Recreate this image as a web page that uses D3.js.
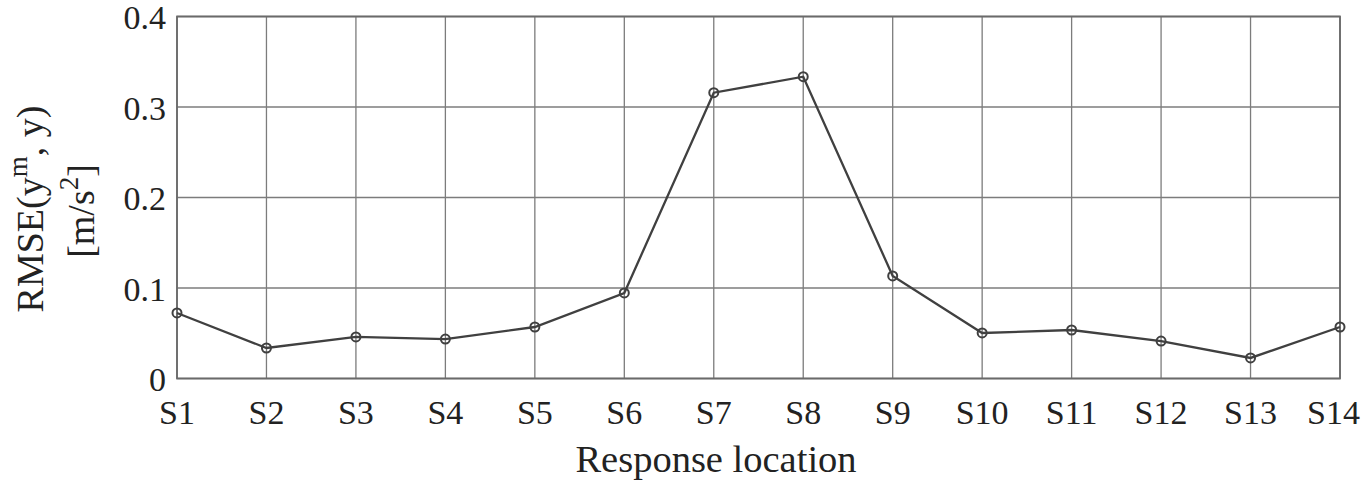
<!DOCTYPE html>
<html>
<head>
<meta charset="utf-8">
<script src="https://cdn.jsdelivr.net/npm/d3@7"></script>
<style>
  body { margin: 0; background: #fff; }
  svg text { font-family: "Liberation Serif", "Times New Roman", serif; fill: #222; }
</style>
</head>
<body>
<div id="chart"></div>
<script>
var width = 1362;
var height = 483;

var locations = ["S1", "S2", "S3", "S4", "S5", "S6", "S7", "S8", "S9", "S10", "S11", "S12", "S13", "S14"];
var rmse = [0.0724, 0.0337, 0.0459, 0.0436, 0.0569, 0.0945, 0.3158, 0.3335, 0.1133, 0.0503, 0.0536, 0.0414, 0.0227, 0.0569];
var yTicks = [0, 0.1, 0.2, 0.3, 0.4];
var yTickLabels = ["0", "0.1", "0.2", "0.3", "0.4"];

var margin = {left: 177, right: 22, top: 16.5, bottom: 104.5};

var svg = d3.select("#chart")
  .append("svg")
  .attr("width", width)
  .attr("height", height);

var x = d3.scalePoint()
  .domain(locations)
  .range([margin.left, width - margin.right]);

var y = d3.scaleLinear()
  .domain([0, 0.4])
  .range([height - margin.bottom, margin.top]);

// grid
svg.append("g")
  .selectAll("line.vgrid")
  .data(locations)
  .enter().append("line")
  .attr("x1", function(d) { return x(d); })
  .attr("x2", function(d) { return x(d); })
  .attr("y1", y(0))
  .attr("y2", y(0.4))
  .attr("stroke", "#7c7c7c")
  .attr("stroke-width", 1.3);

svg.append("g")
  .selectAll("line.hgrid")
  .data(yTicks)
  .enter().append("line")
  .attr("x1", x.range()[0])
  .attr("x2", x.range()[1])
  .attr("y1", function(d) { return y(d); })
  .attr("y2", function(d) { return y(d); })
  .attr("stroke", "#7c7c7c")
  .attr("stroke-width", 1.3);

// axes box
svg.append("rect")
  .attr("x", x.range()[0])
  .attr("y", y(0.4))
  .attr("width", x.range()[1] - x.range()[0])
  .attr("height", y(0) - y(0.4))
  .attr("fill", "none")
  .attr("stroke", "#6a6a6a")
  .attr("stroke-width", 1.8);

// tick labels (last one kept inside the page like the original)
var lastLoc = locations[locations.length - 1];
svg.append("g")
  .selectAll("text")
  .data(locations)
  .enter().append("text")
  .attr("x", function(d) { return d === lastLoc ? width - 2 : x(d); })
  .attr("y", 424)
  .attr("text-anchor", function(d) { return d === lastLoc ? "end" : "middle"; })
  .style("font-size", "34px")
  .text(function(d) { return d; });

svg.append("g")
  .selectAll("text")
  .data(yTicks)
  .enter().append("text")
  .attr("x", 166)
  .attr("y", function(d) { return y(d) + 12.5; })
  .attr("text-anchor", "end")
  .style("font-size", "34px")
  .text(function(d, i) { return yTickLabels[i]; });

// axis titles
svg.append("text")
  .attr("x", 716)
  .attr("y", 472)
  .attr("text-anchor", "middle")
  .style("font-size", "38.5px")
  .text("Response location");

var yt = svg.append("text")
  .attr("transform", "translate(43," + 209 + ") rotate(-90)")
  .attr("text-anchor", "middle")
  .style("font-size", "38px");
yt.append("tspan").text("RMSE(y");
yt.append("tspan").attr("dy", -16).style("font-size", "27px").text("m");
yt.append("tspan").attr("dy", 16).text(", y)");

var yt2 = svg.append("text")
  .attr("transform", "translate(94," + 211 + ") rotate(-90)")
  .attr("text-anchor", "middle")
  .style("font-size", "38px");
yt2.append("tspan").text("[m/s");
yt2.append("tspan").attr("dy", -16).style("font-size", "27px").text("2");
yt2.append("tspan").attr("dy", 16).text("]");

// line
var line = d3.line()
  .x(function(d, i) { return x(locations[i]); })
  .y(function(d) { return y(d); });

svg.append("path")
  .datum(rmse)
  .attr("d", line)
  .attr("fill", "none")
  .attr("stroke", "#404040")
  .attr("stroke-width", 2.3);

svg.append("g")
  .selectAll("circle")
  .data(rmse)
  .enter().append("circle")
  .attr("cx", function(d, i) { return x(locations[i]); })
  .attr("cy", function(d) { return y(d); })
  .attr("r", 4.5)
  .attr("fill", "none")
  .attr("stroke", "#404040")
  .attr("stroke-width", 2);
</script>
</body>
</html>
